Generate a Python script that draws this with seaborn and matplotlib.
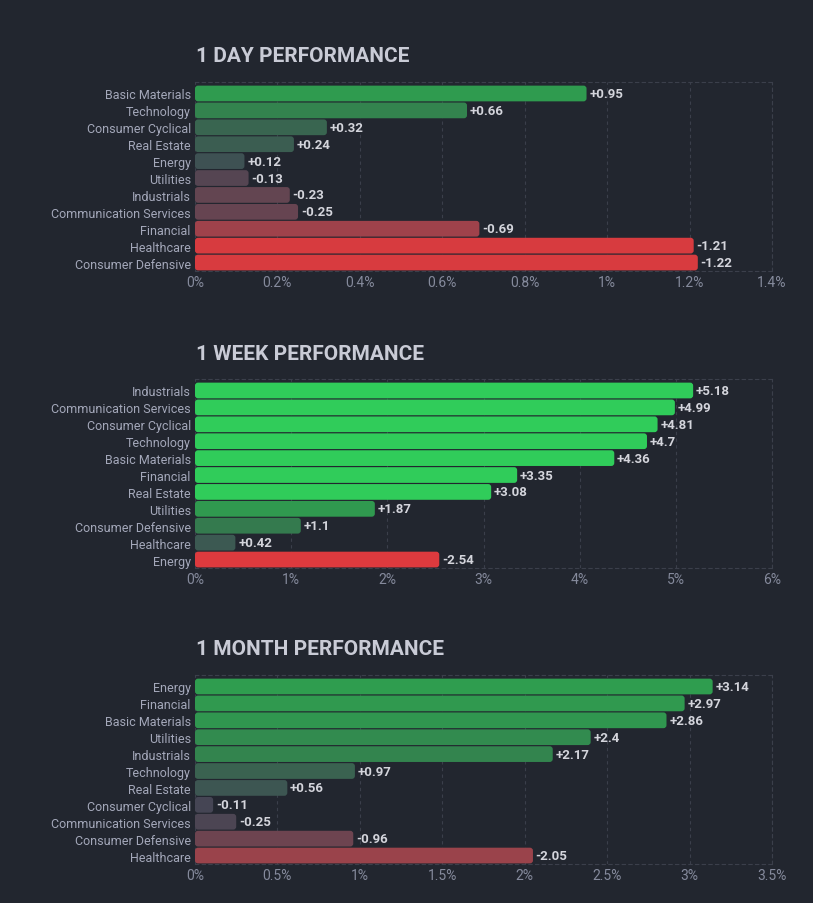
import numpy as np
import pandas as pd
import matplotlib
matplotlib.use("Agg")
import matplotlib.pyplot as plt
import seaborn as sns
from matplotlib.colors import LinearSegmentedColormap
from matplotlib.patches import FancyBboxPatch

# data
day_sectors = ["Basic Materials", "Technology", "Consumer Cyclical", "Real Estate", "Energy",
               "Utilities", "Industrials", "Communication Services", "Financial", "Healthcare",
               "Consumer Defensive"]
day_values = [0.95, 0.66, 0.32, 0.24, 0.12, -0.13, -0.23, -0.25, -0.69, -1.21, -1.22]

week_sectors = ["Industrials", "Communication Services", "Consumer Cyclical", "Technology",
                "Basic Materials", "Financial", "Real Estate", "Utilities", "Consumer Defensive",
                "Healthcare", "Energy"]
week_values = [5.18, 4.99, 4.81, 4.7, 4.36, 3.35, 3.08, 1.87, 1.1, 0.42, -2.54]

month_sectors = ["Energy", "Financial", "Basic Materials", "Utilities", "Industrials", "Technology",
                 "Real Estate", "Consumer Cyclical", "Communication Services", "Consumer Defensive",
                 "Healthcare"]
month_values = [3.14, 2.97, 2.86, 2.4, 2.17, 0.97, 0.56, -0.11, -0.25, -0.96, -2.05]

titles = ["1 DAY PERFORMANCE", "1 WEEK PERFORMANCE", "1 MONTH PERFORMANCE"]
xmaxes = [1.4, 6, 3.5]
xsteps = [0.2, 1, 0.5]
color_steps = [0.5, 1.0, 1.6]

BG = "#22262f"
GRID = "#3b3f4b"

sns.set_theme(style="dark")
plt.rcParams["font.family"] = ["Roboto", "DejaVu Sans"]

cmap = LinearSegmentedColormap.from_list(
    "finviz", ["#f63538", "#bf4045", "#8b444e", "#414554", "#35764e", "#2f9e4f", "#30cc5a"])

fig = plt.figure(figsize=(8.13, 9.04), dpi=100, facecolor=BG)

panels = [(day_sectors, day_values), (week_sectors, week_values), (month_sectors, month_values)]
tops = [83, 380, 676]
title_y = [57, 354, 650]
ax_h = 189
left_px, width_px = 195, 577

for k, (sectors, values) in enumerate(panels):
    bottom = 1 - (tops[k] + ax_h) / 904
    ax = fig.add_axes([left_px / 813, bottom, width_px / 813, ax_h / 904])
    ax.set_facecolor(BG)
    df = pd.DataFrame({"sector": sectors, "value": values})
    df["size"] = df["value"].abs()
    levels = np.clip(df["value"] / color_steps[k], -3, 3)
    colors = [cmap((l + 3) / 6) for l in levels]
    sns.barplot(data=df, x="size", y="sector", hue="sector", palette=colors,
                legend=False, width=0.93, ax=ax, saturation=1)

    xmax = xmaxes[k]
    n = len(sectors)
    ax.set_xlim(0, xmax)
    ax.set_ylim(n - 0.5, -0.68)
    ticks = np.arange(0, xmax + 1e-9, xsteps[k])
    ax.set_xticks(ticks)
    ax.set_xticklabels([f"{t:g}%" for t in ticks])
    ax.set_xlabel("")
    ax.set_ylabel("")
    ax.tick_params(axis="x", colors="#858a9c", labelsize=10, length=0, pad=3)
    ax.tick_params(axis="y", colors="#a4a8ba", labelsize=9, length=0, pad=3)
    ax.grid(axis="x", color=GRID, linestyle=(0, (3, 3)), linewidth=0.8)
    ax.grid(axis="y", visible=False)
    ax.set_axisbelow(True)
    for side in ["top", "right", "bottom"]:
        ax.spines[side].set_visible(True)
        ax.spines[side].set_color(GRID)
        ax.spines[side].set_linestyle((0, (3, 3)))
        ax.spines[side].set_linewidth(0.8)
    ax.spines["left"].set_visible(False)

    # rounded bar ends
    px_x = width_px / xmax
    px_y = ax_h / (n - 0.5 + 0.68)
    r = 3 / px_x
    for p in list(ax.patches):
        x0, y0, w, h = p.get_x(), p.get_y(), p.get_width(), p.get_height()
        fb = FancyBboxPatch((x0, y0), w, h,
                            boxstyle=f"round,pad=0,rounding_size={min(r, w / 2)}",
                            mutation_aspect=px_x / px_y,
                            facecolor=p.get_facecolor(), edgecolor="none", zorder=2)
        p.remove()
        ax.add_patch(fb)

    for i, v in enumerate(values):
        ax.annotate(f"{v:+g}", (abs(v), i), xytext=(2, 0), textcoords="offset points",
                    va="center", ha="left", fontsize=9.5, fontweight="bold", color="#d4d5dc")

    fig.text(196 / 813, 1 - title_y[k] / 904, titles[k], fontsize=15, fontweight="bold",
             color="#c9cbd6", va="center", ha="left")

fig.savefig("out.png", dpi=100, facecolor=BG)
